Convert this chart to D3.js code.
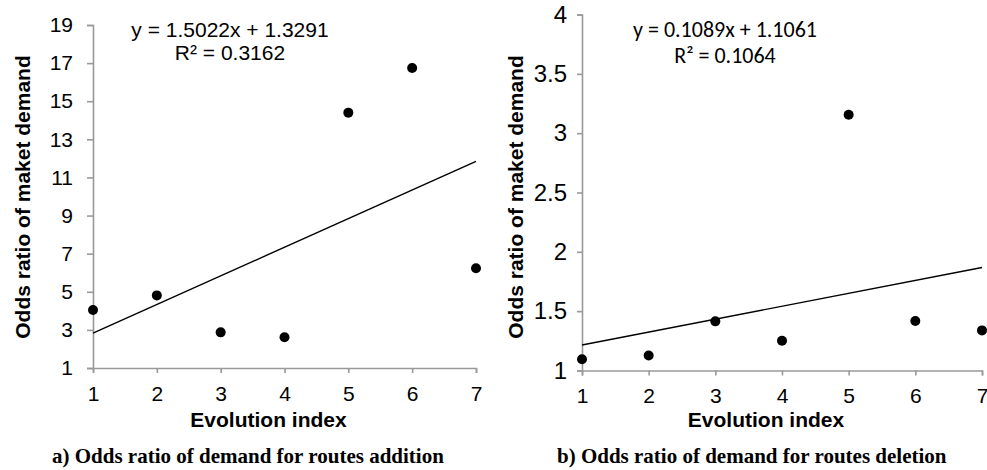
<!DOCTYPE html>
<html>
<head>
<meta charset="utf-8">
<script src="https://cdnjs.cloudflare.com/ajax/libs/d3/7.8.5/d3.min.js"></script>
<style>
  body { margin: 0; background: #fff; }
  svg { display: block; }
</style>
</head>
<body>
<div id="chart"></div>
<script>
// data
var evolutionIndex = [1, 2, 3, 4, 5, 6, 7];
var additionOdds = [4.04, 4.81, 2.87, 2.61, 14.4, 16.74, 6.23];
var deletionOdds = [1.095, 1.127, 1.414, 1.251, 3.155, 1.417, 1.338];

// linear trend: slope, intercept, R²
var additionTrend = [1.5022, 1.3291, 0.3162];
var deletionTrend = [0.1089, 1.1061, 0.1064];

var additionTicks = [1, 3, 5, 7, 9, 11, 13, 15, 17, 19];
var deletionTicks = [1, 1.5, 2, 2.5, 3, 3.5, 4];

var yTitle = "Odds ratio of maket demand";
var xTitle = "Evolution index";
var captions = ["a)  Odds ratio of demand for routes addition", "b)  Odds ratio of demand for routes deletion"];

var svg = d3.select("#chart")
    .append("svg")
    .attr("width", 987)
    .attr("height", 470);

var axisColor = "#999";
var sans = "'Liberation Sans', Arial, sans-serif";

function panel(opts) {
    var xScale = d3.scaleLinear().domain([1, 7]).range([opts.x0, opts.x1]);
    var yScale = d3.scaleLinear().domain(opts.yDomain).range([opts.y0, opts.y1]);
    var g = svg.append("g");

    // x axis
    var xa = g.append("g")
        .attr("transform", "translate(0," + opts.y0 + ")")
        .call(d3.axisBottom(xScale).tickValues(evolutionIndex).tickFormat(d3.format("d"))
            .tickSizeOuter(0).tickSize(5).tickPadding(13));
    // y axis
    var ya = g.append("g")
        .attr("transform", "translate(" + opts.x0 + ",0)")
        .call(d3.axisLeft(yScale).tickValues(opts.ticks).tickSizeOuter(0).tickSize(opts.ytick).tickPadding(opts.ypad)
            .tickFormat(function(d) { return d; }));

    [xa, ya].forEach(function(a) {
        a.select(".domain").attr("stroke", axisColor).attr("stroke-width", 1.6);
        a.selectAll(".tick line").attr("stroke", axisColor).attr("stroke-width", 1.6);
        a.selectAll(".tick text")
            .attr("fill", "#000")
            .style("font-family", sans);
    });
    xa.selectAll(".tick text").style("font-size", "21px");
    ya.selectAll(".tick text").style("font-size", opts.yFont + "px");

    // trend line
    var line = d3.line()
        .x(function(d) { return xScale(d); })
        .y(function(d) { return yScale(opts.trend[0] * d + opts.trend[1]); });
    g.append("path")
        .datum([evolutionIndex[0], evolutionIndex[evolutionIndex.length - 1]])
        .attr("d", line)
        .style("fill", "none")
        .style("stroke", "#000")
        .style("stroke-width", 1.4);

    // points
    g.append("g")
        .selectAll("circle")
        .data(opts.values)
        .enter()
        .append("circle")
        .attr("cx", function(d, i) { return xScale(evolutionIndex[i]); })
        .attr("cy", function(d) { return yScale(d); })
        .attr("r", 5)
        .style("fill", "#000");

    // equation
    var sign = opts.trend[1] >= 0 ? " + " : " - ";
    g.append("text")
        .attr("x", opts.eqX)
        .attr("y", 37)
        .attr("text-anchor", "middle")
        .style("font-family", opts.eqFont)
        .style("font-size", opts.eqSize + "px")
        .text("y = " + opts.trend[0].toFixed(4) + "x" + sign + Math.abs(opts.trend[1]).toFixed(4));
    g.append("text")
        .attr("x", opts.eqX)
        .attr("y", opts.r2Y)
        .attr("text-anchor", "middle")
        .style("font-family", opts.eqFont)
        .style("font-size", opts.eqSize + "px")
        .text("R\u00B2 = " + opts.trend[2].toFixed(4));

    // axis titles
    g.append("text")
        .attr("x", (opts.x0 + opts.x1) / 2 - 16)
        .attr("y", 427)
        .attr("text-anchor", "middle")
        .style("font-family", sans)
        .style("font-weight", "bold")
        .style("font-size", "21px")
        .text(xTitle);
    g.append("text")
        .attr("text-anchor", "middle")
        .attr("transform", "translate(" + opts.yTitleX + ",197)rotate(-90)")
        .style("font-family", sans)
        .style("font-weight", "bold")
        .style("font-size", "21px")
        .text(yTitle);

    // caption
    svg.append("text")
        .attr("x", opts.capX)
        .attr("y", 463)
        .style("font-family", "'Liberation Serif', 'Times New Roman', serif")
        .style("font-weight", "bold")
        .style("font-size", "21px")
        .text(opts.caption);
}

panel({
    x0: 93, x1: 476, y0: 368, y1: 25,
    yDomain: [1, 19], ticks: additionTicks, ytick: 6, ypad: 14, yFont: 21,
    values: additionOdds, trend: additionTrend,
    eqX: 230, r2Y: 60, eqFont: sans, eqSize: 21,
    yTitleX: 30, capX: 52, caption: captions[0]
});

panel({
    x0: 582, x1: 982, y0: 370.5, y1: 14.5,
    yDomain: [1, 4], ticks: deletionTicks, ytick: 5, ypad: 10, yFont: 24,
    values: deletionOdds, trend: deletionTrend,
    eqX: 725, r2Y: 63, eqFont: "Carlito, Lato, Calibri, sans-serif", eqSize: 22,
    yTitleX: 523, capX: 557, caption: captions[1]
});
</script>
</body>
</html>
